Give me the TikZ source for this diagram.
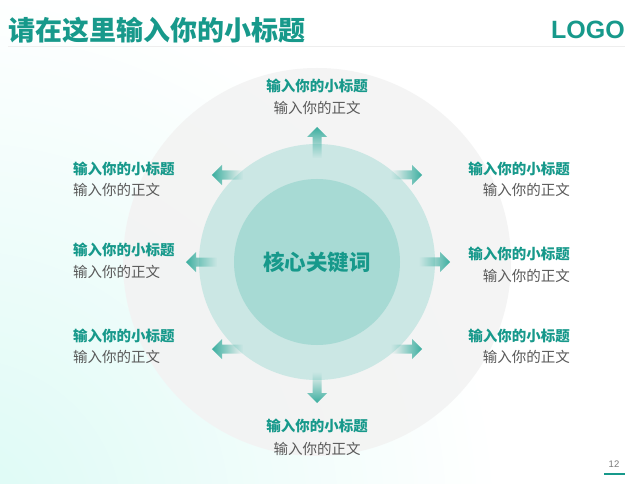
\documentclass[tikz,border=0pt]{standalone}
\usepackage{fontspec}
\setmainfont{Liberation Sans}
\newfontfamily\cjk{Noto Sans CJK SC}
\usetikzlibrary{fadings}
\definecolor{teal1}{HTML}{17998B}
\definecolor{bodygray}{HTML}{595959}
\definecolor{ringgray}{HTML}{F3F3F3}
\definecolor{midc}{HTML}{CBE7E4}
\definecolor{innc}{HTML}{A7DAD4}
\definecolor{mint}{HTML}{DCFAF5}
\definecolor{arrowc}{HTML}{3AAE9F}
\definecolor{sepc}{HTML}{EEEEEE}
\tikzfading[name=fadeR, left color=transparent!100, right color=transparent!0]
\tikzset{
  pics/farrow/.style={code={
    \fill[arrowc, path fading=fadeR, fading angle=#1]
      (0,-4.5) -- (21,-4.5) -- (21,-10) -- (31,0) -- (21,10) -- (21,4.5) -- (0,4.5) -- cycle;}},
  ttl/.style={inner sep=0pt, font=\cjk\bfseries\fontsize{14.5}{16}\selectfont, text=teal1},
  bdy/.style={inner sep=0pt, font=\cjk\fontsize{14.5}{16}\selectfont, text=bodygray},
}
\begin{document}
\begin{tikzpicture}[x=1pt,y=-1pt]
\useasboundingbox (0,0) rectangle (635,484);
\fill[white] (0,0) rectangle (635,484);
\begin{scope}
  \clip (0,0) rectangle (635,484);
  \shade[inner color=mint, outer color=white] (-40,520) circle (540pt);
\end{scope}
% header
\node[inner sep=0pt, anchor=west, font=\cjk\bfseries\fontsize{27}{30}\selectfont, text=teal1] (title) at (8,30) {请在这里输入你的小标题};
\node[inner sep=0pt, anchor=east, font=\bfseries\fontsize{25}{28}\selectfont, text=teal1] (logo) at (625,30) {LOGO};
\draw[sepc, line width=0.8pt] (8,46) -- (625,46);
% circles
\fill[ringgray, opacity=0.9] (317,262) circle (194pt);
\fill[midc] (317,262) circle (118pt);
\fill[innc] (317,262) circle (83pt);
\node[inner sep=0pt, font=\cjk\bfseries\fontsize{21.5}{24}\selectfont, text=teal1] (core) at (317,262) {核心关键词};
% arrows
\pic[rotate=90] at (317,158) {farrow=90};
\pic[rotate=-90] at (317,372) {farrow=-90};
\pic[rotate=180] at (243,175) {farrow=180};
\pic at (391,175) {farrow=0};
\pic[rotate=180] at (217,262) {farrow=180};
\pic at (419,262) {farrow=0};
\pic[rotate=180] at (243,349) {farrow=180};
\pic at (391,349) {farrow=0};
% labels top/bottom
\node[ttl] (t1) at (317,86) {输入你的小标题};
\node[bdy] (b1) at (317,108) {输入你的正文};
\node[ttl] (t8) at (317,426) {输入你的小标题};
\node[bdy] (b8) at (317,449) {输入你的正文};
% left column
\node[ttl, anchor=west] (t2) at (73,169) {输入你的小标题};
\node[bdy, anchor=west] (b2) at (73,190) {输入你的正文};
\node[ttl, anchor=west] (t4) at (73,250) {输入你的小标题};
\node[bdy, anchor=west] (b4) at (73,272) {输入你的正文};
\node[ttl, anchor=west] (t6) at (73,336) {输入你的小标题};
\node[bdy, anchor=west] (b6) at (73,357) {输入你的正文};
% right column
\node[ttl, anchor=east] (t3) at (570,169) {输入你的小标题};
\node[bdy, anchor=east] (b3) at (570,190) {输入你的正文};
\node[ttl, anchor=east] (t5) at (570,254) {输入你的小标题};
\node[bdy, anchor=east] (b5) at (570,276) {输入你的正文};
\node[ttl, anchor=east] (t7) at (570,336) {输入你的小标题};
\node[bdy, anchor=east] (b7) at (570,357) {输入你的正文};
% page number
\node[inner sep=0pt, font=\fontsize{9.5}{11}\selectfont, text=bodygray!80] (pg) at (614,464) {12};
\draw[teal1, line width=1.6pt] (604,474) -- (625,474);
\end{tikzpicture}
\end{document}
